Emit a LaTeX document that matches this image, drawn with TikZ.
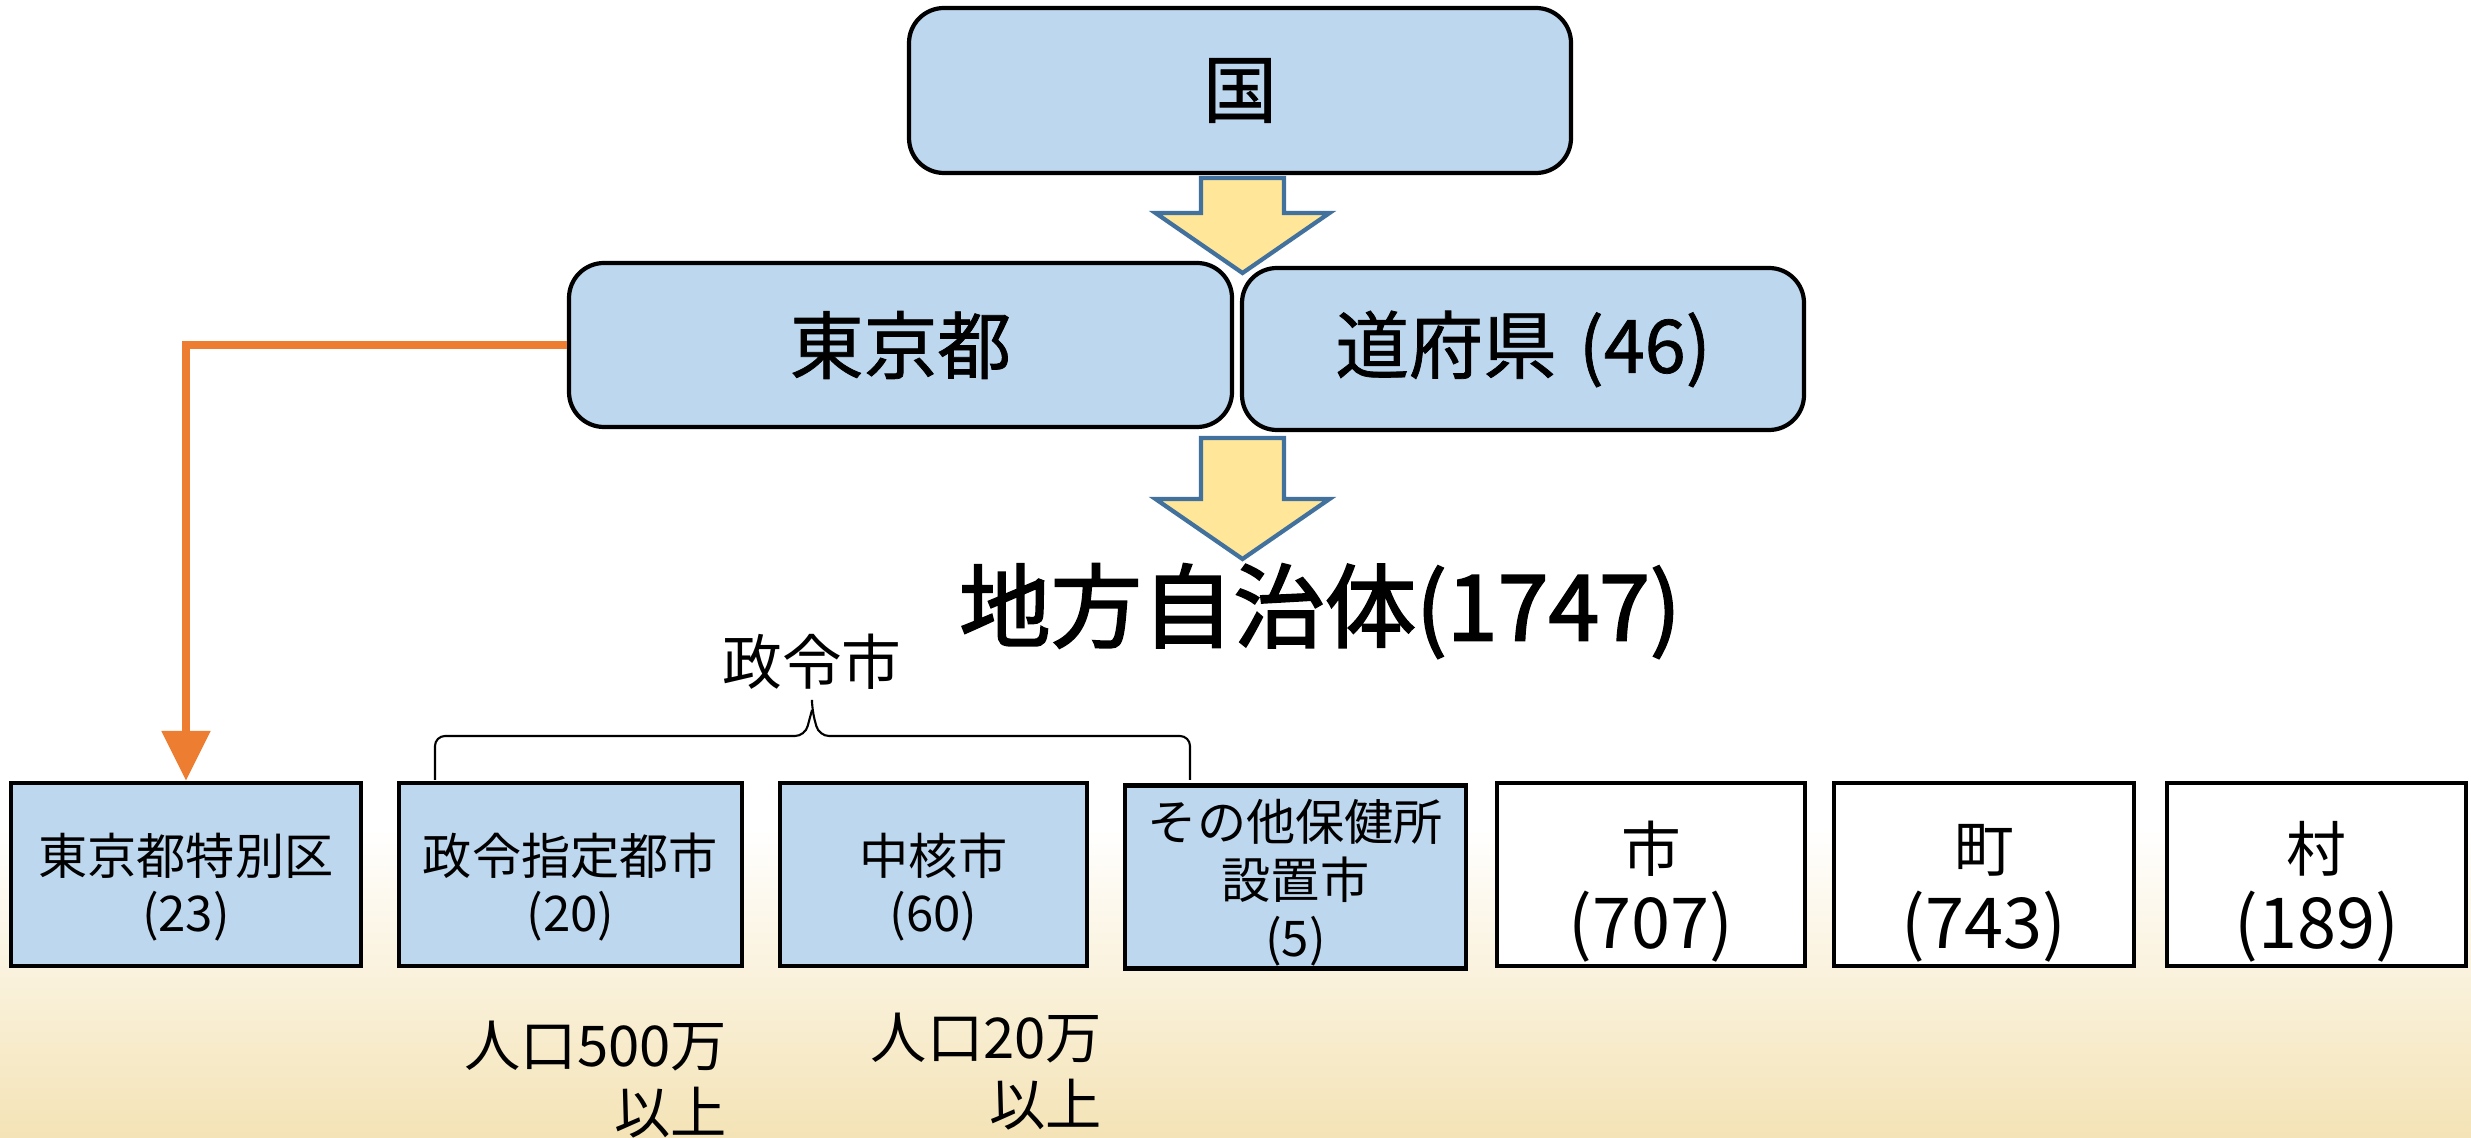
\documentclass[tikz,border=0pt]{standalone}
\usepackage{fontspec}
\setmainfont{Noto Sans CJK JP}
\newfontfamily\heavyjp{Noto Sans CJK JP}[FakeBold=2]
\newfontfamily\midjp{Noto Sans CJK JP}[FakeBold=1]
\usetikzlibrary{arrows.meta,positioning}
\definecolor{boxblue}{RGB}{189,215,238}
\definecolor{arrowyellow}{RGB}{255,230,153}
\definecolor{arrowedge}{RGB}{65,113,156}
\definecolor{linkorange}{RGB}{237,125,49}
\definecolor{bgbeige}{RGB}{244,227,182}

% block arrow: x centre, top, tip
\newcommand{\blockarrow}[3]{%
  \draw[arrowedge,fill=arrowyellow,line width=1.2pt]
    (#1-0.415,#2) -- (#1+0.415,#2) -- (#1+0.415,#3+0.6) -- (#1+0.87,#3+0.6)
    -- (#1,#3) -- (#1-0.87,#3+0.6) -- (#1-0.415,#3+0.6) -- cycle;}
\newcommand{\bignum}[1]{{\fontsize{20}{21}\selectfont #1}}

\begin{document}
\begin{tikzpicture}[thick,
    top node/.style={rectangle,rounded corners=0.35cm,draw,line width=1.2pt,fill=boxblue,font=\midjp\fontsize{21}{25}\selectfont,inner sep=0pt},
    city node/.style={rectangle,draw,line width=1.2pt,fill=boxblue,align=center,inner sep=0pt,minimum height=1.83cm,font=\fontsize{14}{16}\selectfont,
      execute at begin node={\rule{0pt}{35pt}}},
    plain node/.style={city node,fill=white,font=\fontsize{17}{22}\selectfont,
      execute at begin node={\rule{0pt}{46pt}}},
    note node/.style={align=right,anchor=east,font=\fontsize{16}{19}\selectfont}]
  % background
  \fill[white] (0,0) rectangle (24.71,11.37);
  \shade[top color=white,bottom color=bgbeige] (0,0) rectangle (24.71,3.1);
  \useasboundingbox (0,0) rectangle (24.71,11.37);

  \node[top node,minimum width=6.62cm,minimum height=1.65cm] (kuni) at (12.40,10.465) {国};
  \node[top node,minimum width=6.63cm,minimum height=1.64cm] (tokyo) at (9.005,7.92) {東京都};
  \node[top node,minimum width=5.62cm,minimum height=1.62cm] (dofuken) at (15.23,7.88) {道府県\hspace{0.3em}(46)};

  \blockarrow{12.425}{9.59}{8.64}
  \blockarrow{12.425}{6.99}{5.78}

  \node[font=\heavyjp\fontsize{26}{30}\selectfont] (chiho) at (13.20,5.26) {地方自治体(1747)};
  \node[font=\fontsize{17}{20}\selectfont] (seirei) at (8.12,4.75) {政令市};

  \node[city node,minimum width=3.50cm] (tokubetsu) at (1.86,2.625) {東京都特別区\\(23)};
  \node[city node,minimum width=3.43cm] (shitei) at (5.705,2.625) {政令指定都市\\(20)};
  \node[city node,minimum width=3.07cm] (chukaku) at (9.335,2.625) {中核市\\(60)};
  \node[city node,minimum width=3.41cm,font=\fontsize{14}{16.5}\selectfont,
    execute at begin node={\rule{0pt}{48pt}}] (hokenjo) at (12.955,2.60) {その他保健所\\設置市\\(5)};
  \node[plain node,minimum width=3.08cm] (shi) at (16.51,2.625) {市\\\bignum{(707)}};
  \node[plain node,minimum width=3.00cm] (machi) at (19.84,2.625) {町\\\bignum{(743)}};
  \node[plain node,minimum width=2.99cm] (mura) at (23.165,2.625) {村\\\bignum{(189)}};

  \node[note node] (jinko1) at (7.40,0.575) {人口500万\\以上};
  \node[note node] (jinko2) at (11.15,0.655) {人口20万\\以上};

  % brace over the designated cities
  \coordinate (braceL) at (4.35,3.57);
  \coordinate (braceR) at (11.90,3.57);
  \draw[line width=0.6pt,rounded corners=0.1cm]
    (braceL) -- (4.35,4.01) -- (8.05,4.01) -- (8.12,4.27);
  \draw[line width=0.6pt,rounded corners=0.1cm]
    (braceR) -- (11.90,4.01) -- (8.19,4.01) -- (8.12,4.27) -- (seirei.south);

  % Tokyo to special wards
  \draw[linkorange,line width=2.4pt,-{Triangle[width=0.47cm,length=0.5cm]}]
    (tokyo.west) -| (tokubetsu.north);
\end{tikzpicture}
\end{document}
